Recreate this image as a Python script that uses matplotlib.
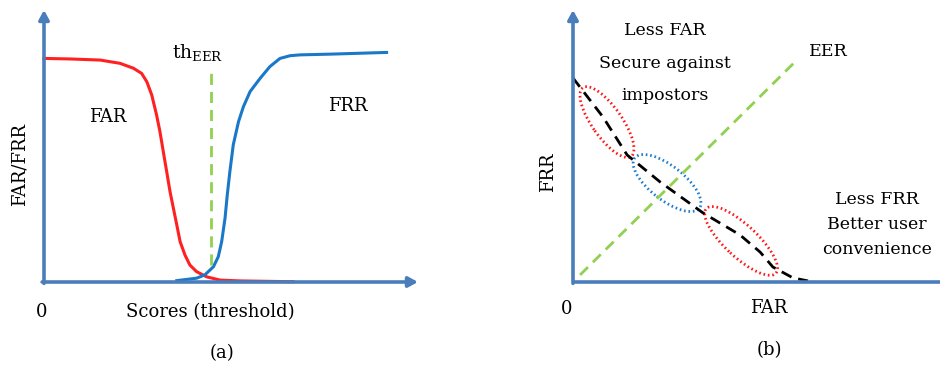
import matplotlib
matplotlib.use("Agg")
from matplotlib import pyplot as plt
from matplotlib.patches import Ellipse

plt.rcParams["font.family"] = ["DejaVu Serif"]
plt.rcParams["mathtext.fontset"] = "dejavuserif"

# panel (a): FAR / FRR against the score threshold
far_x = [0.0, 0.070, 0.150, 0.203, 0.239, 0.261, 0.275, 0.288, 0.301, 0.310, 0.319, 0.328,
         0.337, 0.346, 0.355, 0.364, 0.377, 0.390, 0.408, 0.435, 0.471, 0.524, 0.666]
far_y = [0.822, 0.820, 0.816, 0.804, 0.786, 0.767, 0.736, 0.688, 0.614, 0.553, 0.479, 0.406,
         0.332, 0.271, 0.210, 0.148, 0.099, 0.0625, 0.038, 0.019, 0.007, 0.004, 0.001]
frr_x = [0.355, 0.408, 0.430, 0.453, 0.466, 0.475, 0.484, 0.490, 0.497, 0.506, 0.520, 0.533,
         0.551, 0.578, 0.604, 0.631, 0.658, 0.684, 0.773, 0.916]
frr_y = [0.005, 0.014, 0.026, 0.056, 0.093, 0.148, 0.234, 0.320, 0.406, 0.504, 0.589, 0.644,
         0.700, 0.749, 0.792, 0.822, 0.832, 0.835, 0.838, 0.844]
th_eer = 0.446
th_span = [0.063, 0.768]

# panel (b): DET-like curve, EER diagonal and the three regions
det_x = [0.0, 0.110, 0.199, 0.320, 0.478, 0.614, 0.688, 0.735, 0.809, 0.864]
det_y = [0.750, 0.607, 0.467, 0.368, 0.254, 0.173, 0.110, 0.055, 0.015, 0.004]
eer_x = [0.026, 0.816]
eer_y = [0.026, 0.809]
regions = [
    # center, width, height, angle, colour
    ((0.125, 0.588), 0.309, 0.110, -55, "#ff1a1a"),
    ((0.346, 0.364), 0.301, 0.125, -38, "#1f7fd0"),
    ((0.618, 0.151), 0.349, 0.118, -43, "#ff1a1a"),
]

axis_color = "#4a7ebb"
W, H = 940, 366
fig = plt.figure(figsize=(9.4, 3.66), dpi=100)


def draw_axes(ax, xarrow=True):
    for s in ax.spines.values():
        s.set_visible(False)
    ax.set_xticks([])
    ax.set_yticks([])
    ax.patch.set_alpha(0)
    head = dict(arrowstyle="-|>,head_length=0.55,head_width=0.3", color=axis_color, lw=2.6,
                shrinkA=0, shrinkB=0)
    ax.annotate("", xy=(0, 1.0), xytext=(0, -0.005), xycoords="axes fraction",
                arrowprops=head, annotation_clip=False)
    if xarrow:
        ax.annotate("", xy=(1.0, 0), xytext=(-0.005, 0), xycoords="axes fraction",
                    arrowprops=head, annotation_clip=False)
    else:
        ax.plot([0, 1], [0, 0], transform=ax.transAxes, color=axis_color, lw=2.6,
                solid_capstyle="butt", clip_on=False)


# ---- (a)
ax1 = fig.add_axes([44 / W, 84 / H, 374 / W, 272 / H])
ax1.set_xlim(0, 1)
ax1.set_ylim(0, 1)
ax1.plot(far_x, far_y, color="#ff2020", lw=2.2, clip_on=False, solid_joinstyle="round")
ax1.plot(frr_x, frr_y, color="#1a78c8", lw=2.2, clip_on=False, solid_joinstyle="round")
ax1.plot([th_eer, th_eer], th_span, color="#92d050", lw=2, linestyle=(0, (4, 2.5)))
draw_axes(ax1)
ax1.text(0.171, 0.608, "FAR", ha="center", va="center", fontsize=13)
ax1.text(0.813, 0.647, "FRR", ha="center", va="center", fontsize=13)
ax1.text(0.41, 0.845, r"th$_{\mathrm{EER}}$", ha="center", va="center", fontsize=13.5)
fig.text(20 / W, 1 - 165 / H, "FAR/FRR", rotation=90, ha="center", va="center", fontsize=13)
fig.text(42 / W, 1 - 312 / H, "0", ha="center", va="center", fontsize=13)
fig.text(210 / W, 1 - 312 / H, "Scores (threshold)", ha="center", va="center", fontsize=13)
fig.text(222 / W, 1 - 353 / H, "(a)", ha="center", va="center", fontsize=13)

# ---- (b)
ax2 = fig.add_axes([573 / W, 84 / H, 367 / W, 272 / H])
ax2.set_xlim(0, 367 / 272)
ax2.set_ylim(0, 1)
ax2.plot(eer_x, eer_y, color="#92d050", lw=2, linestyle=(0, (4, 2.5)))
ax2.plot(det_x, det_y, color="black", lw=2, linestyle=(0, (4, 2.5)))
for (cx, cy), w, h, ang, col in regions:
    ax2.add_patch(Ellipse((cx, cy), w, h, angle=ang, fill=False, edgecolor=col,
                          lw=2, linestyle=(0, (0.6, 1.0))))
draw_axes(ax2, xarrow=False)
ax2.text(0.338, 0.926, "Less FAR", ha="center", va="center", fontsize=12.5)
ax2.text(0.338, 0.805, "Secure against", ha="center", va="center", fontsize=12.5)
ax2.text(0.338, 0.684, "impostors", ha="center", va="center", fontsize=12.5)
ax2.text(0.937, 0.849, "EER", ha="center", va="center", fontsize=12.5)
ax2.text(1.118, 0.305, "Less FRR", ha="center", va="center", fontsize=12.5)
ax2.text(1.118, 0.213, "Better user", ha="center", va="center", fontsize=12.5)
ax2.text(1.118, 0.121, "convenience", ha="center", va="center", fontsize=12.5)
fig.text(548 / W, 1 - 172 / H, "FRR", rotation=90, ha="center", va="center", fontsize=13)
fig.text(567 / W, 1 - 309 / H, "0", ha="center", va="center", fontsize=13)
fig.text(769 / W, 1 - 308 / H, "FAR", ha="center", va="center", fontsize=13)
fig.text(769 / W, 1 - 350 / H, "(b)", ha="center", va="center", fontsize=13)

fig.savefig("out.png", dpi=100)
